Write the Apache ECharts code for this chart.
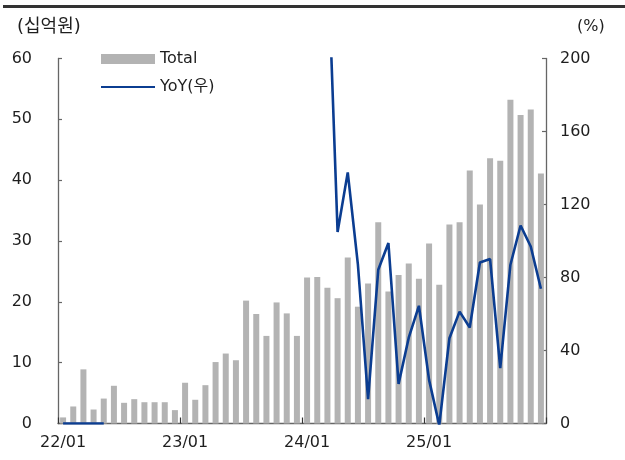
<!DOCTYPE html>
<html>
<head>
<meta charset="utf-8">
<script src="https://cdn.jsdelivr.net/npm/echarts@6/dist/echarts.min.js"></script>
<style>
  html, body { margin: 0; padding: 0; background: #fff; }
  #chart { width: 625px; height: 460px; }
</style>
</head>
<body>
<div id="chart"></div>
<script>
const categories = [
  '22/01','22/02','22/03','22/04','22/05','22/06','22/07','22/08','22/09','22/10','22/11','22/12',
  '23/01','23/02','23/03','23/04','23/05','23/06','23/07','23/08','23/09','23/10','23/11','23/12',
  '24/01','24/02','24/03','24/04','24/05','24/06','24/07','24/08','24/09','24/10','24/11','24/12',
  '25/01','25/02','25/03','25/04','25/05','25/06','25/07','25/08','25/09','25/10','25/11','25/12'
];
const totalValues = [
  1.0, 2.8, 8.9, 2.3, 4.1, 6.2, 3.4, 4.0, 3.5, 3.5, 3.5, 2.2,
  6.7, 3.9, 6.3, 10.1, 11.5, 10.4, 20.2, 18.0, 14.4, 19.9, 18.1, 14.4,
  24.0, 24.1, 22.3, 20.6, 27.3, 19.2, 23.0, 33.1, 21.7, 24.4, 26.3, 23.8,
  29.6, 22.8, 32.7, 33.1, 41.6, 36.0, 43.6, 43.2, 53.2, 50.7, 51.6, 41.1
];
const yoyValues = [
  0, 0, 0, 0, 0, null, null, null, null, null, null, null,
  null, null, null, null, null, null, null, null, null, null, null, null,
  null, null, 262, 104.9, 137.6, 87.0, 13.4, 84.2, 98.9, 21.7, 47.0, 64.5,
  23.9, -1, 46.7, 61.3, 52.6, 88.2, 90.1, 30.3, 87.0, 108.5, 97.0, 73.8
];
const leftTicks = { min: 0, max: 60, interval: 10 };
const rightTicks = { min: 0, max: 200, interval: 40 };
const seriesNames = ['Total', 'YoY(우)'];
const unitLeft = '(십억원)';
const unitRight = '(%)';

const FONT = '"DejaVu Sans", "Noto Sans CJK KR", sans-serif';
const TXT = '#1e1e1e';
const AXIS = '#666666';

const chart = echarts.init(document.getElementById('chart'), null, { renderer: 'canvas' });
chart.setOption({
  animation: false,
  backgroundColor: '#ffffff',
  textStyle: { fontFamily: FONT },
  graphic: [
    { type: 'rect', left: 3, top: 5, shape: { width: 622, height: 3 }, style: { fill: '#333333' } },
    { type: 'text', left: 17, top: 18, style: { text: unitLeft, font: '18px ' + FONT, fill: TXT } },
    { type: 'text', left: 577, top: 19, style: { text: unitRight, font: '16px ' + FONT, fill: TXT } }
  ],
  legend: {
    orient: 'vertical',
    left: 100,
    top: 49,
    padding: 0,
    itemWidth: 54,
    itemHeight: 10,
    itemGap: 8,
    textStyle: { fontSize: 16, color: TXT, fontFamily: FONT, lineHeight: 20 },
    data: [
      { name: seriesNames[0], icon: 'rect' },
      { name: seriesNames[1], itemStyle: { opacity: 0 } }
    ]
  },
  grid: { left: 58, right: 79, top: 58.5, bottom: 36.5, containLabel: false },
  xAxis: {
    type: 'category',
    data: categories,
    boundaryGap: true,
    axisLine: { show: true, lineStyle: { color: AXIS, width: 1.3 } },
    axisTick: { show: true, inside: true, length: 6, interval: 11, lineStyle: { color: '#333', width: 1.2 } },
    axisLabel: { interval: 11, margin: 11, fontSize: 16, color: TXT, fontFamily: FONT },
    splitLine: { show: false }
  },
  yAxis: [
    {
      type: 'value',
      min: leftTicks.min, max: leftTicks.max, interval: leftTicks.interval,
      axisLine: { show: true, lineStyle: { color: AXIS, width: 1.3 } },
      axisTick: { show: true, inside: true, length: 4, lineStyle: { color: AXIS, width: 1.2 } },
      axisLabel: { margin: 26, fontSize: 16, color: TXT, fontFamily: FONT },
      splitLine: { show: false }
    },
    {
      type: 'value',
      position: 'right',
      min: rightTicks.min, max: rightTicks.max, interval: rightTicks.interval,
      axisLine: { show: true, lineStyle: { color: AXIS, width: 1.3 } },
      axisTick: { show: true, inside: true, length: 4, lineStyle: { color: AXIS, width: 1.2 } },
      axisLabel: { margin: 14, fontSize: 16, color: TXT, fontFamily: FONT },
      splitLine: { show: false }
    }
  ],
  series: [
    {
      name: seriesNames[0],
      type: 'bar',
      yAxisIndex: 0,
      data: totalValues,
      barWidth: 6,
      itemStyle: { color: '#b3b3b3' },
      z: 2
    },
    {
      name: seriesNames[1],
      type: 'line',
      yAxisIndex: 1,
      data: yoyValues,
      symbol: 'none',
      connectNulls: false,
      clip: true,
      lineStyle: { color: '#0b3d91', width: 2.6 },
      itemStyle: { color: '#0b3d91' },
      z: 5
    }
  ]
});
</script>
</body>
</html>
